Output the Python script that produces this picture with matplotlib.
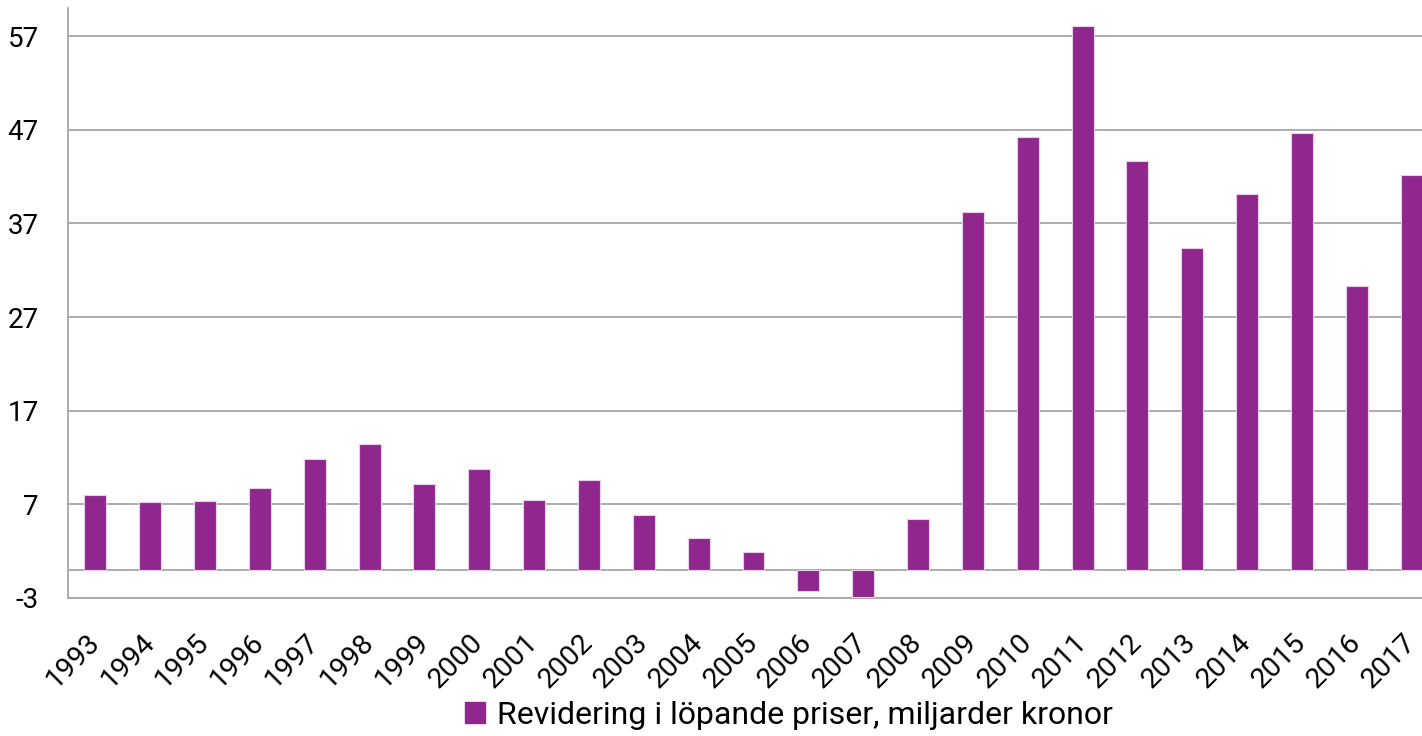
import matplotlib
matplotlib.use("Agg")
import matplotlib.pyplot as plt
from matplotlib.patches import Patch

years = [str(y) for y in range(1993, 2018)]
values = [8.0, 7.2, 7.4, 8.7, 11.8, 13.4, 9.2, 10.8, 7.5, 9.6, 5.9, 3.4, 1.9,
          -2.3, -2.9, 5.4, 38.2, 46.2, 58.1, 43.7, 34.4, 40.1, 46.7, 30.3, 42.2]
yticks = [-3, 7, 17, 27, 37, 47, 57]
label = "Revidering i löpande priser, miljarder kronor"

plt.rcParams['font.family'] = ['Roboto', 'DejaVu Sans']
color = "#90278F"
grid_c = "#A6A6A6"

fig = plt.figure(figsize=(14.22, 7.36), dpi=100)
ax = fig.add_axes([68/1422, 1-598/736, 1-68/1422, (598-8)/736])

x = list(range(len(years)))
ax.bar(x, values, width=0.4, color=color, edgecolor="#E8D0E8", linewidth=0.8, zorder=3)

ax.set_ylim(-3, 60)
ax.set_xlim(-0.5, 24.19)
ax.set_yticks(yticks)
ax.set_yticklabels([str(t) for t in yticks], fontsize=20)
ax.yaxis.grid(True, color=grid_c, linewidth=1.3, zorder=0)
ax.axhline(0, color=grid_c, linewidth=1.3, zorder=1)
ax.set_xticks(x)
ax.set_xticklabels(years, fontsize=20.5, rotation=45, ha='right', va='center', rotation_mode='anchor')
ax.tick_params(axis='y', length=0, pad=21)
ax.tick_params(axis='x', length=0, pad=29)
for s in ['top', 'right']:
    ax.spines[s].set_visible(False)
ax.spines['left'].set_color(grid_c)
ax.spines['bottom'].set_color(grid_c)
ax.spines['left'].set_linewidth(1.3)
ax.spines['bottom'].set_linewidth(1.3)

handles = [Patch(facecolor=color, edgecolor=color)]
fig.legend(handles, [label], loc='center', bbox_to_anchor=(789/1422, 1-715/736),
           frameon=False, fontsize=23, handlelength=0.63, handleheight=0.63,
           handletextpad=0.37, borderaxespad=0)

fig.savefig("out.png", dpi=100)
